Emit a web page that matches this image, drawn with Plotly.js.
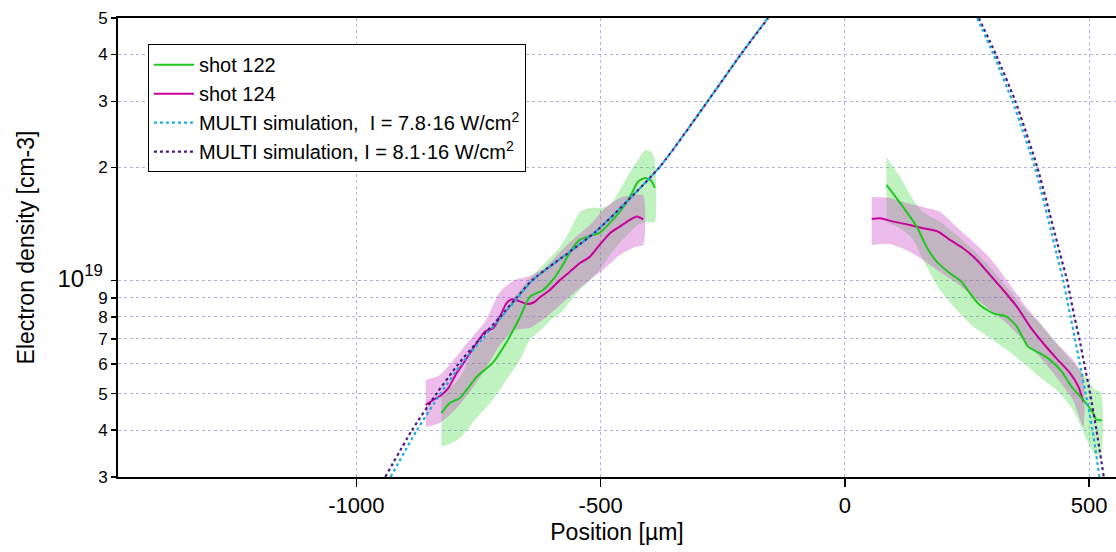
<!DOCTYPE html>
<html>
<head>
<meta charset="utf-8">
<script src="https://cdn.plot.ly/plotly-3.0.1.min.js"></script>
<style>html,body{margin:0;padding:0;background:#fff;}#chart{width:1116px;height:552px;}</style>
</head>
<body>
<div id="chart"></div>
<script>
// ---------- Data (position in µm, electron density in cm^-3) ----------
// MULTI simulation curves
const simLeftY = [3e18, 4e18, 5e18, 6e18, 7e18, 8e18, 9e18, 1e19, 1.35e19, 2e19, 3e19, 4e19, 5e19];
const sim78LeftX = [-930, -876, -828, -785, -742, -703, -670, -640, -510, -380, -281, -213, -158];
const sim81LeftX = [-941, -886, -836, -791, -747, -706, -672, -641, -510, -380, -281, -213, -157];
const simRightY = [5e19, 4e19, 3e19, 2e19, 1.185e19, 1e19, 9e18, 8e18, 7e18, 6e18, 5e18, 4e18, 3e18];
const sim78RightX = [271, 304, 343, 389, 433, 447, 454, 462, 471, 481, 493, 507, 521];
const sim81RightX = [274, 309, 349, 394, 440, 455, 462, 470, 480, 490, 502, 515, 530];

// shot 122 (left side)
const s122LX = [-826, -809, -788, -754, -721, -690, -665, -645, -618, -598, -580, -560, -543, -522, -502, -481, -461, -440, -424, -409, -396, -389];
const s122LY = [4.44e18, 4.72e18, 4.87e18, 5.54e18, 6.04e18, 6.95e18, 8.00e18, 9.05e18, 9.44e18, 1.004e19, 1.087e19, 1.206e19, 1.283e19, 1.315e19, 1.339e19, 1.424e19, 1.523e19, 1.670e19, 1.830e19, 1.876e19, 1.842e19, 1.764e19];
const s122LUp = [4.96e18, 5.18e18, 5.51e18, 6.74e18, 7.39e18, 8.61e18, 9.44e18, 1.016e19, 1.101e19, 1.170e19, 1.244e19, 1.380e19, 1.523e19, 1.561e19, 1.561e19, 1.590e19, 1.743e19, 1.946e19, 2.094e19, 2.227e19, 2.199e19, 2.094e19];
const s122LLo = [3.61e18, 3.67e18, 3.81e18, 4.31e18, 4.81e18, 5.51e18, 6.15e18, 6.95e18, 7.48e18, 7.95e18, 8.25e18, 8.88e18, 9.44e18, 1.004e19, 1.067e19, 1.170e19, 1.259e19, 1.347e19, 1.406e19, 1.432e19, 1.432e19, 1.432e19];

// shot 122 (right side)
const s122RX = [85, 106, 126, 147, 167, 188, 215, 239, 256, 276, 304, 331, 352, 375, 399, 420, 444, 464, 488, 508, 515, 526];
const s122RY = [1.797e19, 1.656e19, 1.526e19, 1.392e19, 1.231e19, 1.123e19, 1.046e19, 9.93e18, 9.25e18, 8.61e18, 8.18e18, 8.02e18, 7.54e18, 6.67e18, 6.41e18, 6.15e18, 5.72e18, 5.22e18, 4.81e18, 4.44e18, 4.26e18, 4.25e18];
const s122RBandX = [85, 113, 140, 160, 195, 229, 263, 297, 331, 365, 399, 433, 467, 495, 512, 524];
const s122RUp = [2.133e19, 1.887e19, 1.639e19, 1.523e19, 1.432e19, 1.323e19, 1.206e19, 1.087e19, 9.62e18, 8.51e18, 7.71e18, 6.82e18, 6.04e18, 5.51e18, 5.12e18, 5.05e18];
const s122RLo = [1.432e19, 1.380e19, 1.283e19, 1.135e19, 9.44e18, 8.35e18, 7.53e18, 7.04e18, 6.54e18, 6.04e18, 5.54e18, 5.12e18, 4.53e18, 3.77e18, 3.44e18, 3.44e18];

// shot 124 (left side)
const s124LX = [-858, -843, -826, -812, -795, -774, -754, -737, -720, -706, -693, -682, -669, -652, -638, -624, -604, -583, -563, -543, -522, -502, -481, -461, -440, -426, -413];
const s124LY = [4.67e18, 4.81e18, 4.96e18, 5.17e18, 5.67e18, 6.21e18, 6.81e18, 7.31e18, 7.47e18, 8.02e18, 8.70e18, 8.92e18, 8.84e18, 8.67e18, 8.73e18, 9.03e18, 9.44e18, 1.004e19, 1.056e19, 1.112e19, 1.158e19, 1.244e19, 1.336e19, 1.392e19, 1.450e19, 1.480e19, 1.456e19];
const s124LBandX = [-858, -829, -798, -768, -737, -706, -676, -645, -614, -583, -553, -522, -491, -461, -430, -413];
const s124LUp = [5.44e18, 5.61e18, 6.22e18, 6.95e18, 7.76e18, 9.33e18, 1.004e19, 1.029e19, 1.080e19, 1.192e19, 1.299e19, 1.406e19, 1.561e19, 1.660e19, 1.690e19, 1.690e19];
const s124LLo = [4.08e18, 4.18e18, 4.53e18, 5.05e18, 5.78e18, 6.74e18, 7.39e18, 7.48e18, 7.95e18, 8.61e18, 9.33e18, 1.004e19, 1.080e19, 1.170e19, 1.229e19, 1.244e19];

// shot 124 (right side)
const s124RX = [55, 72, 99, 133, 160, 191, 215, 242, 270, 297, 324, 352, 379, 406, 433, 461, 478, 488];
const s124RY = [1.459e19, 1.465e19, 1.435e19, 1.406e19, 1.378e19, 1.349e19, 1.283e19, 1.219e19, 1.135e19, 1.035e19, 9.44e18, 8.52e18, 7.54e18, 6.81e18, 6.21e18, 5.67e18, 5.22e18, 4.76e18];
const s124RBandX = [55, 92, 126, 160, 195, 229, 263, 297, 331, 365, 399, 433, 467, 488];
const s124RUp = [1.670e19, 1.660e19, 1.609e19, 1.570e19, 1.523e19, 1.389e19, 1.267e19, 1.149e19, 1.004e19, 8.72e18, 7.71e18, 6.82e18, 6.15e18, 5.54e18];
const s124RLo = [1.244e19, 1.252e19, 1.206e19, 1.135e19, 1.054e19, 9.85e18, 9.05e18, 8.35e18, 7.71e18, 6.95e18, 6.26e18, 5.54e18, 4.81e18, 4.08e18];

// axis ticks
const yTickVals = [3e18, 4e18, 5e18, 6e18, 7e18, 8e18, 9e18, 1e19, 2e19, 3e19, 4e19, 5e19];
const yTickText = ['3', '4', '5', '6', '7', '8', '9', '<span style="font-size:24px">10<sup>19</sup></span>\u00a0', '2', '3', '4', '5'];
const xTickVals = [-1000, -500, 0, 500];
const xTickText = ['-1000', '-500', '0', '500'];

// legend labels
const names = ['shot 122', 'shot 124',
  'MULTI simulation,\u00a0 I = 7.8\u00b716 W/cm<sup>2</sup>',
  'MULTI simulation, I = 8.1\u00b716 W/cm<sup>2</sup>'];

// ---------- styles ----------
const GREEN = '#1ec81e';
const MAGENTA = '#c8009a';
const CYAN = '#1aaee0';
const PURPLE = '#4a1a80';
const GREEN_FILL = 'rgba(60,215,60,0.32)';
const PINK_FILL = 'rgba(200,70,195,0.36)';

function band(xs, up, lo, fill) {
  return {
    x: xs.concat(xs.slice().reverse()),
    y: up.concat(lo.slice().reverse()),
    type: 'scatter', mode: 'lines', fill: 'toself', fillcolor: fill,
    line: {width: 0, color: fill, shape: 'spline', smoothing: 0.6},
    hoverinfo: 'skip', showlegend: false
  };
}
function line(xs, ys, color, name, show, dash, width, rank) {
  return {
    x: xs, y: ys, type: 'scatter', mode: 'lines', name: name,
    line: {color: color, width: width, dash: dash, shape: 'spline', smoothing: 0.6},
    showlegend: show, legendgroup: name, legendrank: rank
  };
}

const traces = [
  band(s122LX, s122LUp, s122LLo, GREEN_FILL),
  band(s122RBandX, s122RUp, s122RLo, GREEN_FILL),
  band(s124LBandX, s124LUp, s124LLo, PINK_FILL),
  band(s124RBandX, s124RUp, s124RLo, PINK_FILL),
  line(s124LX, s124LY, MAGENTA, names[1], true, 'solid', 2, 2),
  line(s124RX, s124RY, MAGENTA, names[1], false, 'solid', 2, 2),
  line(s122LX, s122LY, GREEN, names[0], true, 'solid', 2, 1),
  line(s122RX, s122RY, GREEN, names[0], false, 'solid', 2, 1),
  line(sim81LeftX, simLeftY, PURPLE, names[3], true, 'dot', 2.2, 4),
  line(sim81RightX, simRightY, PURPLE, names[3], false, 'dot', 2.2, 4),
  line(sim78LeftX, simLeftY, CYAN, names[2], true, 'dot', 2.2, 3),
  line(sim78RightX, simRightY, CYAN, names[2], false, 'dot', 2.2, 3)
];

const FONT = '"Liberation Sans", Arial, sans-serif';
const GRID = '#b0b0e8';

const layout = {
  width: 1116, height: 552,
  margin: {l: 118, r: 0, t: 18, b: 75},
  paper_bgcolor: '#ffffff', plot_bgcolor: '#ffffff',
  font: {family: FONT, color: '#000'},
  showlegend: true,
  legend: {
    x: 0.030, y: 0.943, xanchor: 'left', yanchor: 'top',
    bgcolor: '#ffffff', bordercolor: '#000', borderwidth: 1,
    font: {size: 20, family: FONT, color: '#000'},
    itemwidth: 40,
    tracegroupgap: 0, traceorder: 'normal'
  },
  xaxis: {
    range: [-1488, 555],
    tickvals: xTickVals, ticktext: xTickText,
    ticks: 'outside', ticklen: 8, tickwidth: 1.5, tickcolor: '#000',
    tickfont: {size: 22, family: FONT},
    showline: true, linecolor: '#000', linewidth: 2, mirror: true,
    showgrid: true, gridcolor: GRID, gridwidth: 1, griddash: 'dot',
    zeroline: false,
    title: {text: 'Position [µm]', font: {size: 23, family: FONT}, standoff: 6}
  },
  yaxis: {
    type: 'log',
    range: [Math.log10(3e18), Math.log10(5e19)],
    tickvals: yTickVals, ticktext: yTickText,
    ticks: 'outside', ticklen: 5, tickwidth: 1.5, tickcolor: '#000',
    tickfont: {size: 17, family: FONT},
    showline: true, linecolor: '#000', linewidth: 2,
    showgrid: true, gridcolor: GRID, gridwidth: 1, griddash: 'dot',
    zeroline: false,
    title: {text: 'Electron density [cm-3]', font: {size: 23, family: FONT}, standoff: 16}
  }
};

Plotly.newPlot('chart', traces, layout, {displayModeBar: false, staticPlot: true});
</script>
</body>
</html>
